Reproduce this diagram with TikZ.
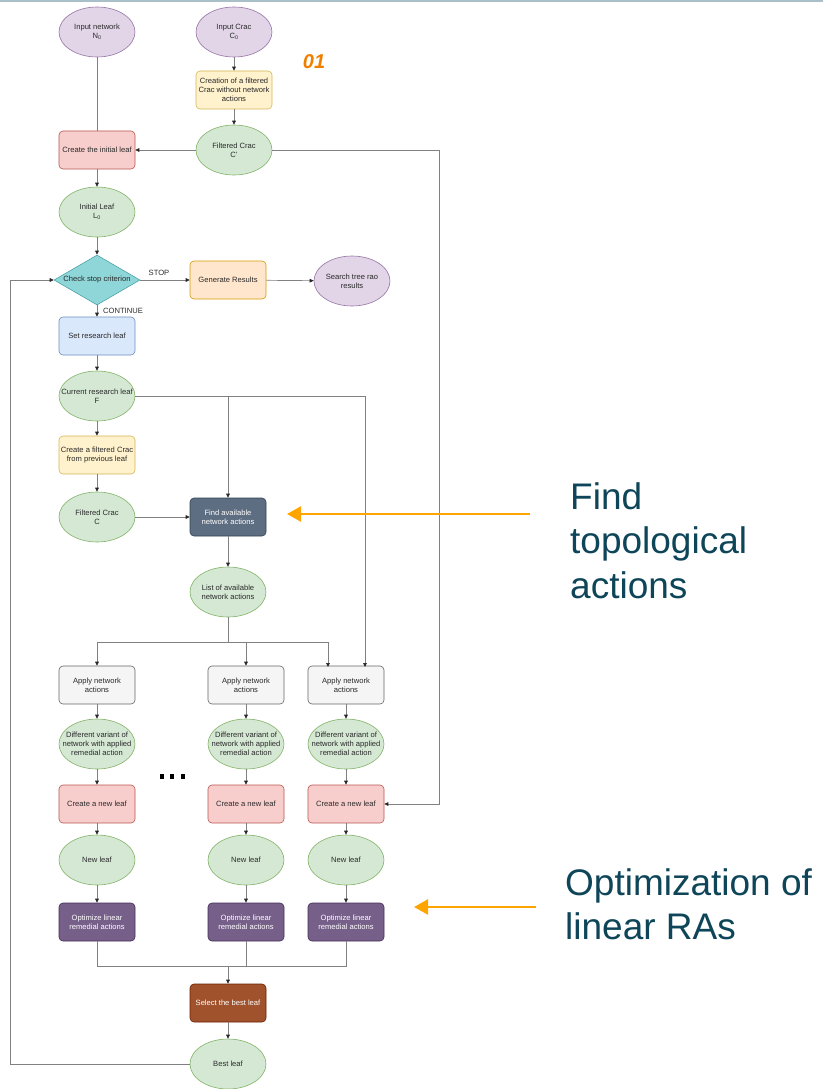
\documentclass[tikz,border=0pt]{standalone}
\usepackage{fontspec}
\setmainfont{Liberation Sans}
\usetikzlibrary{arrows.meta,shapes.geometric}

% draw.io-like palette
\definecolor{purpleF}{HTML}{E1D5E7}\definecolor{purpleD}{HTML}{9673A6}
\definecolor{greenF}{HTML}{D5E8D4}\definecolor{greenD}{HTML}{82B366}
\definecolor{yellowF}{HTML}{FFF2CC}\definecolor{yellowD}{HTML}{D6B656}
\definecolor{redF}{HTML}{F8CECC}\definecolor{redD}{HTML}{B85450}
\definecolor{blueF}{HTML}{DAE8FC}\definecolor{blueD}{HTML}{6C8EBF}
\definecolor{orangeF}{HTML}{FFE6CC}\definecolor{orangeD}{HTML}{D79B00}
\definecolor{grayF}{HTML}{F5F5F5}\definecolor{grayD}{HTML}{666666}
\definecolor{tealF}{HTML}{8FD6D9}\definecolor{tealD}{HTML}{4BA3A8}
\definecolor{slateF}{HTML}{5E6E82}\definecolor{slateD}{HTML}{314354}
\definecolor{violetF}{HTML}{76608A}\definecolor{violetD}{HTML}{432D57}
\definecolor{siennaF}{HTML}{A0522D}\definecolor{siennaD}{HTML}{6D1F00}
\definecolor{linegray}{HTML}{808080}
\definecolor{txtgray}{HTML}{2A2A2A}
\definecolor{accent}{HTML}{FFA500}
\definecolor{numorange}{HTML}{F07F00}
\definecolor{notecol}{HTML}{0E4558}
\definecolor{topline}{HTML}{A9C0C8}

\begin{document}
\begin{tikzpicture}[x=1pt,y=-1pt,
  txt/.style={font=\fontsize{7.6}{9}\selectfont, align=center, text=txtgray, inner sep=0pt},
  base/.style={draw, line width=0.6pt, txt},
  ell/.style={base, ellipse, minimum width=76pt, minimum height=50pt, label={[txt]center:{#1}}},
  box/.style={base, rectangle, rounded corners=4pt, minimum width=76pt, minimum height=38pt},
  inputN/.style={ell={#1}, fill=purpleF, draw=purpleD},
  stateN/.style={ell={#1}, fill=greenF, draw=greenD},
  yellowB/.style={box, fill=yellowF, draw=yellowD},
  redB/.style={box, fill=redF, draw=redD},
  blueB/.style={box, fill=blueF, draw=blueD},
  orangeB/.style={box, fill=orangeF, draw=orangeD},
  grayB/.style={box, fill=grayF, draw=grayD},
  slateB/.style={box, fill=slateF, draw=slateD, text=white},
  violetB/.style={box, fill=violetF, draw=violetD, text=white},
  siennaB/.style={box, fill=siennaF, draw=siennaD, text=white},
  decision/.style={draw=tealD, fill=tealF, line width=0.6pt, diamond, inner sep=0pt,
    minimum width=86pt, minimum height=50pt, label={[txt]center:{#1}}},
  line/.style={draw=linegray, line width=0.7pt},
  conn/.style={line, -{Triangle[length=4pt,width=3.6pt,color=black!85]}},
  pointer/.style={draw=accent, line width=2.4pt, -{Triangle[length=14pt,width=15pt]}},
  note/.style={font=\fontsize{37}{44.5}\selectfont, text=notecol, align=left, inner sep=0pt},
  flag/.style={font=\fontsize{20}{20}\selectfont\bfseries\itshape, text=numorange, inner sep=0pt},
  tag/.style={txt}
]
\useasboundingbox (0,0) rectangle (823,1089);

% thin rule along the top edge
\draw[topline, line width=1.6pt] (0,1) -- (823,1);

% ---- inputs and initial leaf
\node[inputN={Input network\\N\textsubscript{0}}] (N0) at (97,32) {};
\node[inputN={Input Crac\\C\textsubscript{0}}] (C0) at (234,32) {};
\node[flag] (num) at (314,62) {01};
\node[yellowB] (creation) at (234,90) {Creation of a filtered\\Crac without network\\actions};
\node[stateN={Filtered Crac\\C'}] (Cp) at (234,150) {};
\node[redB] (init) at (97,150) {Create the initial leaf};
\node[stateN={Initial Leaf\\L\textsubscript{0}}] (L0) at (97,212) {};

% ---- stop test
\node[decision={Check stop criterion}] (check) at (97,280) {};
\node[orangeB] (gen) at (228,280) {Generate Results};
\node[inputN={Search tree rao\\results}] (res) at (352,281) {};
\node[tag] (stop) at (159,273) {STOP};
\node[tag, anchor=west] (cont) at (103,311) {CONTINUE};

% ---- research leaf
\node[blueB] (set) at (97,336) {Set research leaf};
\node[stateN={Current research leaf\\F}] (F) at (97,396) {};
\node[yellowB] (filt) at (97,455) {Create a filtered Crac\\from previous leaf};
\node[stateN={Filtered Crac\\C}] (C) at (97,517) {};
\node[slateB] (find) at (228,517) {Find available\\network actions};
\node[stateN={List of available\\network actions}] (list) at (228,592) {};

% ---- the three branches
\foreach \k/\x in {1/97, 2/246, 3/346} {
  \node[grayB] (apply\k) at (\x,685) {Apply network\\actions};
  \node[stateN={Different variant of\\network with applied\\remedial action}] (var\k) at (\x,744) {};
  \node[redB] (new\k) at (\x,804) {Create a new leaf};
  \node[stateN={New leaf}] (leaf\k) at (\x,860) {};
  \node[violetB] (opt\k) at (\x,922) {Optimize linear\\remedial actions};
  \draw[conn] (apply\k) -- (var\k);
  \draw[conn] (var\k) -- (new\k);
  \draw[conn] (new\k) -- (leaf\k);
  \draw[conn] (leaf\k) -- (opt\k);
}
% ellipsis between the branches
\foreach \x in {161.5,172,182.5}
  \fill[black] (\x-2,773.5) rectangle (\x+2,778.5);

\node[siennaB] (select) at (228,1003) {Select the best leaf};
\node[stateN={Best leaf}] (best) at (228,1064) {};

% ---- junction points
\coordinate (rail) at (439,804);
\coordinate (fj) at (228,396);
\coordinate (a3f) at (365,667);
\coordinate (split) at (228,642);
\coordinate (a3l) at (328,667);
\coordinate (merge) at (228,966);
\coordinate (back) at (10,1064);

% ---- connectors
\draw[line] (N0) -- (init);
\draw[conn] (C0) -- (creation);
\draw[conn] (creation) -- (Cp);
\draw[conn] (Cp) -- (init);
\draw[conn] (Cp.east) -| (rail) -- (new3.east);
\draw[conn] (init) -- (L0);
\draw[conn] (L0) -- (check.north);
\draw[conn] (check.east) -- (gen.west);
\draw[conn] (gen) -- (res);
\draw[conn] (check.south) -- (set.north);
\draw[conn] (set) -- (F);
\draw[conn] (F) -- (filt);
\draw[conn] (filt) -- (C);
\draw[conn] (C) -- (find);
\draw[conn] (F.east) -| (a3f);
\draw[conn] (fj) -- (find.north);
\draw[conn] (find) -- (list);
\draw[line] (list.south) -- (split);
\draw[conn] (split) -| (apply1.north);
\draw[conn] (split) -| (apply2.north);
\draw[conn] (split) -| (a3l);
\draw[line] (opt1.south) |- (merge);
\draw[line] (opt2.south) |- (merge);
\draw[line] (opt3.south) |- (merge);
\draw[conn] (merge) -- (select.north);
\draw[conn] (select) -- (best);
\draw[conn] (best.west) -- (back) |- (check.west);

% ---- side notes
\coordinate (p1) at (530,514);
\coordinate (q1) at (287,514);
\draw[pointer] (p1) -- (q1);
\node[note, anchor=north west] (noteA) at (570,482) {Find\\topological\\actions};
\coordinate (p2) at (536,907);
\coordinate (q2) at (414,907);
\draw[pointer] (p2) -- (q2);
\node[note, anchor=north west] (noteB) at (565,868) {Optimization of\\linear RAs};
\end{tikzpicture}
\end{document}
